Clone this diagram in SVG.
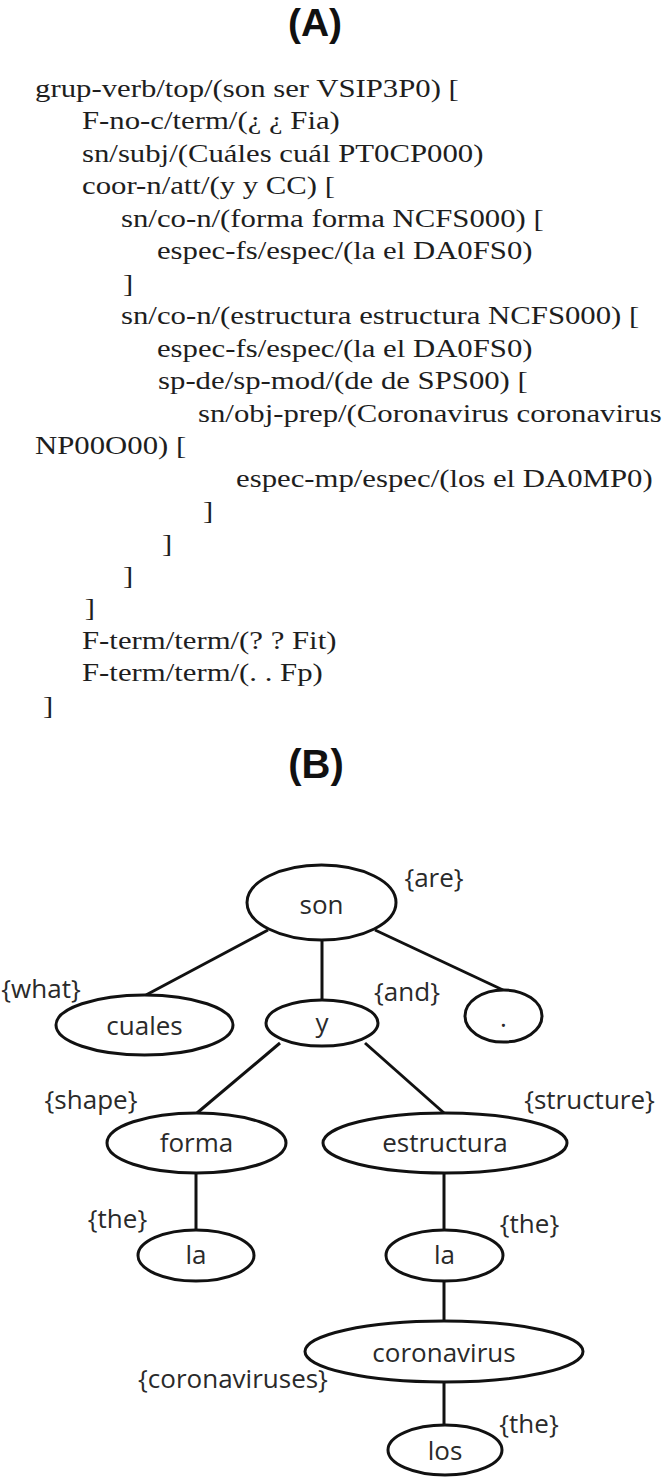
<svg xmlns="http://www.w3.org/2000/svg" width="664" height="1479" viewBox="0 0 664 1479">
<style>
.title{font-family:"Liberation Sans",Arial,sans-serif;font-weight:bold;font-size:40px;fill:#111;text-anchor:middle}
.code{font-family:"Liberation Serif","Times New Roman",serif;font-size:25px;fill:#1e1e1e}
.node ellipse{fill:#fff;stroke:#111;stroke-width:3}
.node text{font-family:"Open Sans","Liberation Sans",sans-serif;font-size:26px;fill:#2a2a2a;text-anchor:middle}
.lbl{font-family:"Open Sans","Liberation Sans",sans-serif;font-size:27.5px;fill:#2a2a2a;text-anchor:middle}
.edge{stroke:#111;stroke-width:3;fill:none}
</style>
<rect width="664" height="1479" fill="#fff"/>
<text class="title" x="315" y="36" style="font-size:39px">(A)</text>
<g id="parse-text" transform="scale(1.23,1)">
<text class="code" x="28.5" y="97">grup-verb/top/(son ser VSIP3P0) [</text>
<text class="code" x="66.7" y="129.5">F-no-c/term/(¿ ¿ Fia)</text>
<text class="code" x="66.7" y="161.9">sn/subj/(Cuáles cuál PT0CP000)</text>
<text class="code" x="66.7" y="194.4">coor-n/att/(y y CC) [</text>
<text class="code" x="98.4" y="226.9">sn/co-n/(forma forma NCFS000) [</text>
<text class="code" x="127.6" y="259.4">espec-fs/espec/(la el DA0FS0)</text>
<text class="code" x="100" y="291.8">]</text>
<text class="code" x="98.4" y="324.3">sn/co-n/(estructura estructura NCFS000) [</text>
<text class="code" x="127.6" y="356.8">espec-fs/espec/(la el DA0FS0)</text>
<text class="code" x="128.5" y="389.2">sp-de/sp-mod/(de de SPS00) [</text>
<text class="code" x="161" y="421.7">sn/obj-prep/(Coronavirus coronavirus</text>
<text class="code" x="28.5" y="454.2">NP00O00) [</text>
<text class="code" x="191.9" y="486.6">espec-mp/espec/(los el DA0MP0)</text>
<text class="code" x="165" y="519.1">]</text>
<text class="code" x="131.7" y="551.6">]</text>
<text class="code" x="100" y="584">]</text>
<text class="code" x="69" y="616.5">]</text>
<text class="code" x="66.7" y="649">F-term/term/(? ? Fit)</text>
<text class="code" x="66.7" y="681.4">F-term/term/(. . Fp)</text>
<text class="code" x="35" y="713.9">]</text>
</g>
<text class="title" x="316" y="778">(B)</text>
<g id="connectors">
<line class="edge" x1="268" y1="930" x2="146" y2="995"/>
<line class="edge" x1="322" y1="940" x2="322" y2="1000"/>
<line class="edge" x1="375" y1="930" x2="503" y2="990"/>
<line class="edge" x1="280" y1="1043" x2="197" y2="1113"/>
<line class="edge" x1="365" y1="1043" x2="444" y2="1113"/>
<line class="edge" x1="196" y1="1173" x2="196" y2="1230"/>
<line class="edge" x1="444" y1="1173" x2="444" y2="1230"/>
<line class="edge" x1="444" y1="1281" x2="444" y2="1321"/>
<line class="edge" x1="444" y1="1382" x2="444" y2="1425"/>
</g>
<g id="node-son" class="node"><ellipse cx="321.5" cy="902.5" rx="74.5" ry="37.5"/><text x="321.5" y="914">son</text><text class="lbl" x="434" y="887">{are}</text></g>
<g id="node-cuales" class="node"><ellipse cx="144.5" cy="1025" rx="88.5" ry="30"/><text x="144.5" y="1035">cuales</text><text class="lbl" x="41" y="998">{what}</text></g>
<g id="node-y" class="node"><ellipse cx="322" cy="1023" rx="56" ry="23"/><text x="322" y="1032">y</text><text class="lbl" x="407" y="1001">{and}</text></g>
<g id="node-dot" class="node"><ellipse cx="503.5" cy="1016" rx="38.5" ry="26"/><text x="503.5" y="1027">.</text></g>
<g id="node-forma" class="node"><ellipse cx="196.5" cy="1143" rx="89.5" ry="30"/><text x="196.5" y="1152">forma</text><text class="lbl" x="91" y="1109">{shape}</text></g>
<g id="node-estructura" class="node"><ellipse cx="445" cy="1143" rx="122" ry="30"/><text x="445" y="1152">estructura</text><text class="lbl" x="589.5" y="1109">{structure}</text></g>
<g id="node-la1" class="node"><ellipse cx="196" cy="1255.5" rx="58" ry="25.5"/><text x="196" y="1264">la</text><text class="lbl" x="117.5" y="1228">{the}</text></g>
<g id="node-la2" class="node"><ellipse cx="444.5" cy="1255.5" rx="58.5" ry="25.5"/><text x="444.5" y="1264">la</text><text class="lbl" x="529.5" y="1233">{the}</text></g>
<g id="node-coronavirus" class="node"><ellipse cx="444" cy="1351.5" rx="139" ry="30.5"/><text x="444" y="1362">coronavirus</text><text class="lbl" x="233" y="1388">{coronaviruses}</text></g>
<g id="node-los" class="node"><ellipse cx="445" cy="1450" rx="57" ry="25"/><text x="445" y="1460">los</text><text class="lbl" x="529" y="1433">{the}</text></g>
</svg>
